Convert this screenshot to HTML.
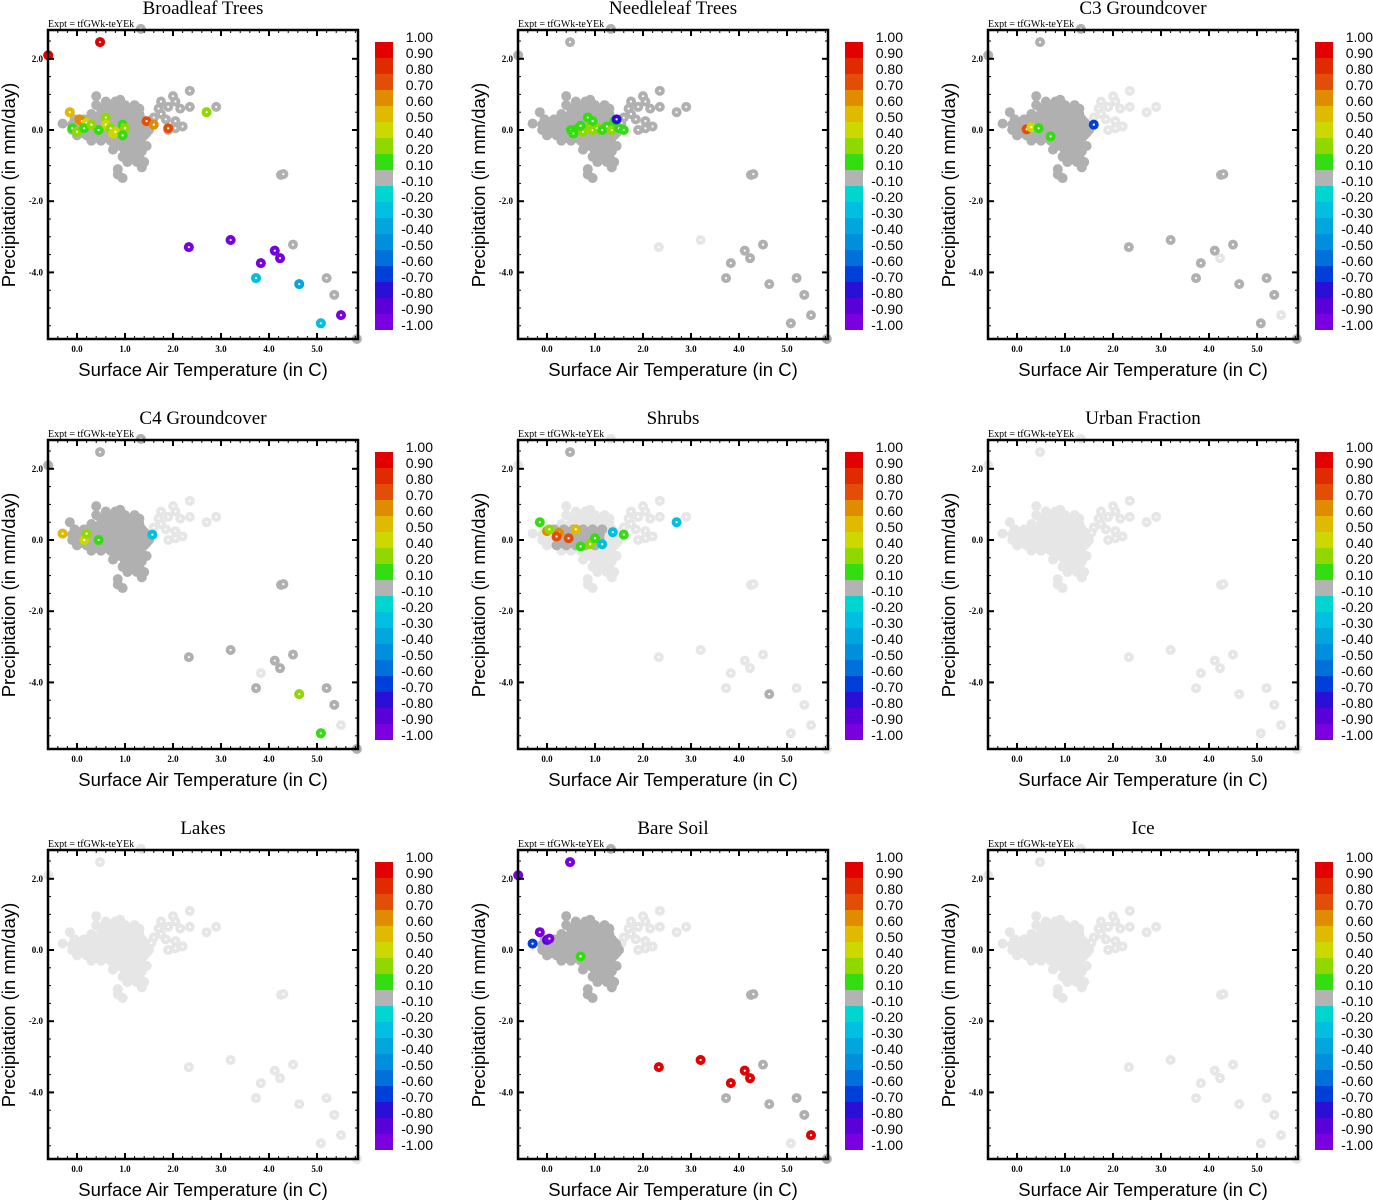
<!DOCTYPE html>
<html><head><meta charset="utf-8">
<style>
html,body{margin:0;padding:0;background:#fff;}
svg{display:block;}
</style></head>
<body>
<svg id="fig" xmlns="http://www.w3.org/2000/svg" width="1373" height="1200" viewBox="0 0 1373 1200"></svg>
<script>
const titles = ["Broadleaf Trees","Needleleaf Trees","C3 Groundcover","C4 Groundcover","Shrubs","Urban Fraction","Lakes","Bare Soil","Ice"];
const xTicks = [0,1,2,3,4,5];
const xTickLabels = ["0.0","1.0","2.0","3.0","4.0","5.0"];
const yTicks = [2,0,-2,-4];
const yTickLabels = ["2.0","0.0","-2.0","-4.0"];
const cbLabels = ["1.00","0.90","0.80","0.70","0.60","0.50","0.40","0.20","0.10","-0.10","-0.20","-0.30","-0.40","-0.50","-0.60","-0.70","-0.80","-0.90","-1.00"];
const cbColors = ["#e20000","#e02a00","#e24e08","#df8c00","#dfba00","#cdd800","#90d800","#33dd11","#b3b3b3","#00d6cf","#00bfe0","#00a6dc","#008fdc","#0070db","#0040d8","#2a10d6","#5a00d8","#7a00e0"];
const corePts = [
[0.5,0.6],[0.7,0.6],[0.9,0.6],[1.1,0.6],[1.3,0.6],
[0.3,0.45],[0.5,0.45],[0.7,0.45],[0.9,0.45],[1.1,0.45],[1.3,0.45],
[-0.05,0.3],[0.15,0.3],[0.35,0.3],[0.55,0.3],[0.75,0.3],[0.95,0.3],[1.15,0.3],[1.35,0.3],
[-0.1,0.15],[0.1,0.15],[0.3,0.15],[0.5,0.15],[0.7,0.15],[0.9,0.15],[1.1,0.15],[1.3,0.15],[1.45,0.15],
[-0.1,0.0],[0.1,0.0],[0.3,0.0],[0.5,0.0],[0.7,0.0],[0.9,0.0],[1.1,0.0],[1.3,0.0],[1.5,0.0],
[0.0,-0.15],[0.2,-0.15],[0.4,-0.15],[0.6,-0.15],[0.8,-0.15],[1.0,-0.15],[1.2,-0.15],[1.4,-0.15],
[0.3,-0.3],[0.5,-0.3],[0.7,-0.3],[0.9,-0.3],[1.1,-0.3],[1.3,-0.3],
[0.9,-0.45],[1.1,-0.45],[1.3,-0.45],[1.45,-0.45],
[1.0,-0.6],[1.2,-0.6],[1.35,-0.6],
[0.95,-0.75],[1.1,-0.75],[1.3,-0.75],
[1.05,-0.9],[1.25,-0.9],[1.4,-0.9],
[0.75,-0.55],[0.85,-1.1],[0.85,-1.25],[0.95,-1.35],[1.35,-1.05],
[0.4,0.95],[0.9,0.85],[0.4,0.7],[0.8,0.8],[0.65,0.65],[-0.15,0.5],[-0.3,0.18],
[0.6,0.52],[0.8,0.52],[1.0,0.52],[1.2,0.52],[0.4,0.38],[0.6,0.38],[0.8,0.38],[1.0,0.38],[1.2,0.38],
[0.05,0.22],[0.25,0.22],[0.45,0.22],[0.65,0.22],[0.85,0.22],[1.05,0.22],[1.25,0.22],[1.4,0.22],
[0.0,0.07],[0.2,0.07],[0.4,0.07],[0.6,0.07],[0.8,0.07],[1.0,0.07],[1.2,0.07],[1.4,0.07],
[0.1,-0.08],[0.3,-0.08],[0.5,-0.08],[0.7,-0.08],[0.9,-0.08],[1.1,-0.08],[1.3,-0.08],[1.45,-0.08],
[0.4,-0.22],[0.6,-0.22],[0.8,-0.22],[1.0,-0.22],[1.2,-0.22],[1.35,-0.22],
[1.0,-0.38],[1.2,-0.38],[0.8,-0.4],[1.05,-0.52],[1.25,-0.52],[1.05,-0.68],[1.2,-0.68],[1.15,-0.82],[1.0,0.7],[1.2,0.7],[0.6,0.8]
];
const spreadPts = [
[1.6,0.35],[1.7,0.6],[1.75,0.8],[1.85,0.3],[1.9,0.65],[2.0,0.95],[2.05,0.8],[2.15,0.6],[2.05,0.25],[2.2,0.1],[2.35,1.1],[2.35,0.65],[1.55,0.2],[1.9,0.0],[2.05,0.05],[1.75,0.45],[2.7,0.5],[2.9,0.65]
];
const outlierPts = [
[-0.6,2.1],[0.48,2.47],[1.33,2.84],[4.25,-1.26],[2.33,-3.29],[3.2,-3.09],[4.12,-3.39],[4.23,-3.6],[3.83,-3.74],[4.5,-3.22],[3.73,-4.16],[4.63,-4.33],[5.2,-4.16],[5.36,-4.63],[5.5,-5.2],[5.08,-5.43],[5.83,-5.87],[4.3,-1.24]
];
const coreModes = ["dark","dark","dark","dark","partial","light","light","dark","light"];
const spreadDark = [true,true,false,false,false,false,false,false,false];
const outlierShade = ["111111111111111111","111100111111111111","111111101111110111","111111110111110111","010000000001000000","000000000000000000","000000000000000000","111111111111111011","000000000000000000"];
const colored0 = [[-0.6,2.1,0.95],[0.48,2.47,0.95],[2.7,0.5,0.3],[1.45,0.25,0.75],[1.6,0.15,0.65],[1.9,0.05,0.75],[-0.15,0.5,0.55],[0.05,0.3,0.65],[0.1,0.25,0.65],[0.2,0.2,0.45],[0.6,0.35,0.3],[0.6,0.15,0.45],[0.95,0.15,0.15],[1.0,0.05,0.3],[-0.1,0.05,0.15],[0.0,-0.05,0.3],[0.15,0.05,0.15],[0.45,0.0,0.15],[0.7,0.05,0.3],[0.75,-0.1,0.45],[0.8,-0.05,0.4],[0.95,-0.15,0.15],[0.3,0.15,0.2],[2.33,-3.29,-0.95],[3.2,-3.09,-0.95],[4.12,-3.39,-0.95],[4.23,-3.6,-0.95],[3.83,-3.74,-0.95],[3.73,-4.16,-0.25],[4.63,-4.33,-0.35],[5.08,-5.43,-0.25],[5.5,-5.2,-0.95]];
const colored1 = [[0.5,0.0,0.15],[0.55,-0.1,0.15],[0.65,0.05,0.15],[0.75,-0.05,0.3],[0.85,0.35,0.15],[0.9,0.1,0.3],[0.95,0.0,0.3],[1.05,0.05,0.3],[1.15,0.0,0.15],[1.25,0.1,0.15],[1.35,0.0,0.2],[1.4,0.25,0.15],[1.5,0.05,0.15],[1.6,0.0,0.15],[0.95,0.25,0.15],[0.7,0.12,0.15],[1.45,0.3,-0.75]];
const colored2 = [[0.2,0.02,0.75],[0.3,0.08,0.45],[0.45,0.05,0.15],[0.7,-0.18,0.15],[1.6,0.15,-0.7]];
const colored3 = [[-0.3,0.18,0.55],[0.15,0.0,0.45],[0.2,0.18,0.3],[0.45,0.0,0.15],[1.57,0.15,-0.25],[4.63,-4.33,0.3],[5.08,-5.43,0.15]];
const colored4 = [[-0.15,0.5,0.15],[0.0,0.25,0.65],[0.05,0.3,0.3],[0.25,0.2,0.6],[0.2,0.1,0.75],[0.45,0.05,0.75],[0.6,0.3,0.55],[0.7,-0.18,0.15],[0.9,-0.12,0.3],[1.0,0.05,0.15],[1.15,-0.12,-0.25],[1.37,0.22,-0.25],[1.6,0.15,0.15],[2.7,0.5,-0.25]];
const colored5 = [];
const colored6 = [];
const colored7 = [[-0.6,2.1,-0.95],[0.48,2.47,-0.95],[-0.15,0.5,-0.95],[-0.3,0.18,-0.7],[0.0,0.28,-0.9],[0.05,0.32,-0.95],[0.7,-0.18,0.15],[2.33,-3.29,0.95],[3.2,-3.09,0.95],[4.12,-3.39,0.95],[4.23,-3.6,0.95],[3.83,-3.74,0.95],[5.5,-5.2,0.95]];
const colored8 = [];
const coloredAll = [colored0,colored1,colored2,colored3,colored4,colored5,colored6,colored7,colored8];

const NS = "http://www.w3.org/2000/svg";
const svg = document.getElementById("fig");
const DARK = "#b0b0b0", LIGHT = "#e6e6e6";
function mk(tag, attrs, parent){ const e=document.createElementNS(NS,tag); for(const k in attrs) e.setAttribute(k,attrs[k]); parent.appendChild(e); return e; }
const cbVals = [1.0,0.9,0.8,0.7,0.6,0.5,0.4,0.2,0.1,-0.1,-0.2,-0.3,-0.4,-0.5,-0.6,-0.7,-0.8,-0.9,-1.0];
function colorFor(v){ for(let i=0;i<18;i++){ if(v<=cbVals[i] && v>=cbVals[i+1]) return cbColors[i]; } return cbColors[v>0?0:17]; }

for(let p=0;p<9;p++){
  const ox=(p%3)*470, oy=Math.floor(p/3)*410;
  const L=ox+48, R=ox+358, T=oy+30, B=oy+339;
  const xs = v => ox+77+v*48;
  const ys = v => oy+130-v*35.6;
  const g = mk("g",{},svg);
  
  
  const t = mk("text",{x:ox+203,y:oy+14,"text-anchor":"middle","font-family":"Liberation Serif, serif","font-size":"19"},g);
  t.textContent = titles[p];
  
  
  const ex = mk("text",{x:L,y:oy+27,"font-family":"Liberation Serif, serif","font-size":"10"},g);
  ex.textContent = "Expt = tfGWk-teYEk";
  
  
  const pts = mk("g",{},g);
  
  
  const list=[];
  corePts.forEach(pt=>{ let d = coreModes[p]==="dark" || (coreModes[p]==="partial" && pt[1]>-0.2 && pt[1]<0.35 && pt[0]>0.1 && pt[0]<1.2); list.push([pt[0],pt[1],d,false]); });
  spreadPts.forEach(pt=>list.push([pt[0],pt[1],spreadDark[p],true]));
  outlierPts.forEach((pt,i)=>list.push([pt[0],pt[1],outlierShade[p][i]==="1",true]));
  function dot(x,y,col,dotc){
    const c=mk("circle",{cx:xs(x),cy:ys(y),r:5,fill:col},pts);
    
    
    if(dotc) mk("circle",{cx:xs(x),cy:ys(y),r:1.1,fill:"#fff"},pts);
  }
  list.filter(q=>!q[2]).forEach(q=>dot(q[0],q[1],LIGHT,q[3]));
  list.filter(q=>q[2]).forEach(q=>dot(q[0],q[1],DARK,q[3]));
  coloredAll[p].forEach(q=>dot(q[0],q[1],colorFor(q[2]),true));
  const tk = mk("g",{stroke:"#000"},g);
  for(let v=-0.6;v<=5.81;v+=0.2){ const x=xs(Math.round(v*10)/10); const major=Math.abs(v-Math.round(v))<0.01;
    const len=major?6:3;
    mk("line",{x1:x,y1:B,x2:x,y2:B-len,"stroke-width":major?2:1},tk);
    mk("line",{x1:x,y1:T,x2:x,y2:T+len,"stroke-width":major?2:1},tk); }
  for(let v=-5.5;v<=2.6;v+=0.5){ const y=ys(v); const major=Math.abs(v/2-Math.round(v/2))<0.01;
    const len=major?6:3;
    mk("line",{x1:L,y1:y,x2:L+len,y2:y,"stroke-width":major?2:1},tk);
    mk("line",{x1:R,y1:y,x2:R-len,y2:y,"stroke-width":major?2:1},tk); }
  const frame = mk("rect",{x:L,y:T,width:R-L,height:B-T,fill:"none",stroke:"#000","stroke-width":2.5},g);
  
  
  xTicks.forEach((v,i)=>{ const e=mk("text",{x:xs(v),y:oy+352,"text-anchor":"middle","font-family":"Liberation Serif, serif","font-size":"9","font-weight":"bold"},g); e.textContent=xTickLabels[i];
    
     });
  yTicks.forEach((v,i)=>{ const e=mk("text",{x:L-5,y:ys(v)+3,"text-anchor":"end","font-family":"Liberation Serif, serif","font-size":"9","font-weight":"bold"},g); e.textContent=yTickLabels[i];
    
     });
  const xt = mk("text",{x:ox+203,y:oy+376,"text-anchor":"middle","font-family":"Liberation Sans, sans-serif","font-size":"18.5"},g);
  xt.textContent="Surface Air Temperature (in C)";
  
  
  const yt = mk("text",{x:0,y:0,"text-anchor":"middle","font-family":"Liberation Sans, sans-serif","font-size":"18.5",transform:`translate(${ox+15},${oy+185}) rotate(-90)`},g);
  yt.textContent="Precipitation (in mm/day)";
  
  
  const cb = mk("g",{},g);
  
  
  cbColors.forEach((c,i)=>{ const r=mk("rect",{x:ox+375,y:oy+42+i*16,width:18,height:16,fill:c},cb);
    
     });
  cbLabels.forEach((s,i)=>{ const e=mk("text",{x:ox+433,y:oy+42+i*16,"text-anchor":"end","font-family":"Liberation Sans, sans-serif","font-size":"14"},cb); e.textContent=s;
    
     });
}
</script>
</body></html>
